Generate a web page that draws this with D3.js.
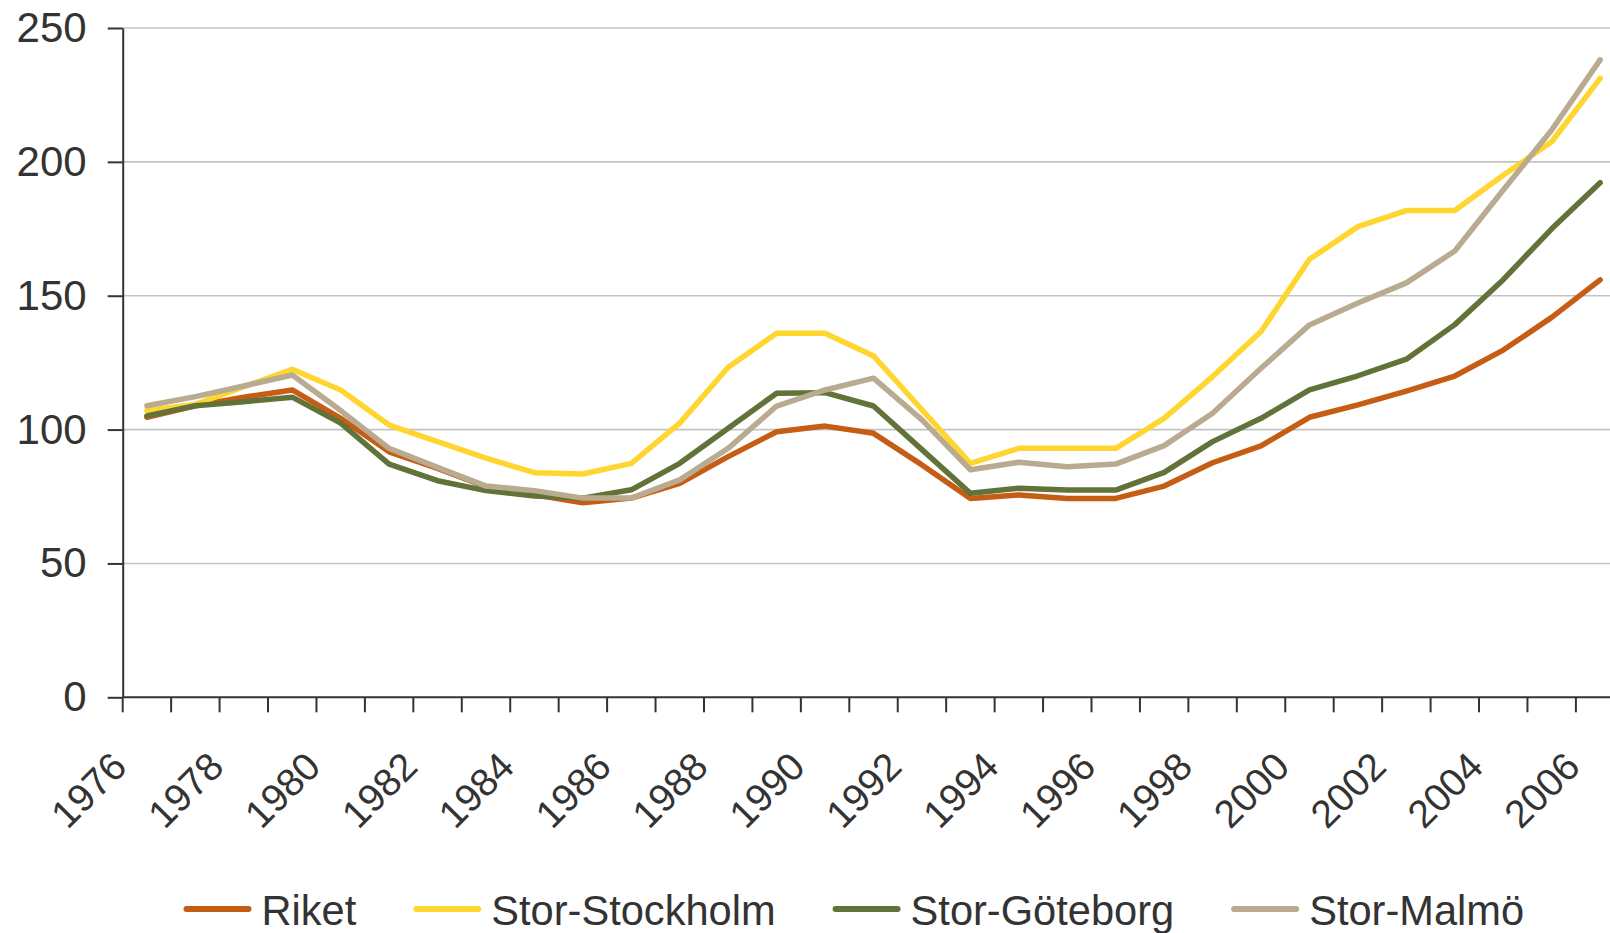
<!DOCTYPE html>
<html>
<head>
<meta charset="utf-8">
<script src="https://cdn.jsdelivr.net/npm/d3@7"></script>
<style>
  html, body { margin: 0; padding: 0; background: #fff; }
  svg { display: block; font-family: "Liberation Sans", Arial, sans-serif; }
</style>
</head>
<body>
<svg id="chart" width="1610" height="933"></svg>
<script>
// ---- Data ----
const years = [1976,1977,1978,1979,1980,1981,1982,1983,1984,1985,1986,1987,1988,1989,1990,1991,1992,1993,1994,1995,1996,1997,1998,1999,2000,2001,2002,2003,2004,2005,2006];
const tickLabelYears = [1976,1978,1980,1982,1984,1986,1988,1990,1992,1994,1996,1998,2000,2002,2004,2006];
const yTicks = [0,50,100,150,200,250];
const seriesNames = ["Riket","Stor-Stockholm","Stor-Göteborg","Stor-Malmö"];
const riket = [104.6,108.9,112.1,114.8,104.2,91.7,85.5,78.7,75.6,72.7,74.4,79.9,89.9,99.2,101.3,98.6,86.8,74.3,75.6,74.3,74.3,78.9,87.6,93.9,104.6,109.2,114.4,120.0,129.7,141.9,155.9];
const storStockholm = [107.1,109.4,116.0,122.5,114.8,101.7,95.5,89.3,83.9,83.4,87.4,102.4,123.3,136.0,136.0,127.5,107.4,87.4,93.0,93.0,93.0,104.2,119.8,136.6,163.6,175.8,181.8,181.8,195.0,207.5,231.2];
const storGoteborg = [105.1,108.9,110.4,112.1,102.4,87.1,80.9,77.2,75.2,74.4,77.5,87.4,100.5,113.6,113.8,108.8,92.5,76.2,78.1,77.4,77.4,84.0,95.5,104.2,114.8,120.1,126.3,139.2,156.0,175.0,192.2];
const storMalmo = [108.9,112.3,116.3,120.4,107.1,93.0,85.9,78.9,77.2,74.4,74.4,81.2,93.0,108.8,114.8,119.2,103.6,85.0,87.8,86.1,87.1,94.0,106.1,122.9,139.1,147.3,154.8,166.7,189.5,211.9,238.1];
const seriesValues = [riket, storStockholm, storGoteborg, storMalmo];
const seriesColors = ["#C65D14","#FFD62F","#617339","#B8AB8F"];

// ---- Layout ----
const plotLeft = 122.7, bandW = 48.44, plotTop = 28, plotBottom = 697.3;
const plotRight = plotLeft + bandW * years.length;

const svg = d3.select("#chart");
const x = d3.scaleBand().domain(years).range([plotLeft, plotRight]).padding(0);
const y = d3.scaleLinear().domain([0, 250]).range([plotBottom, plotTop]);

// gridlines
svg.append("g").selectAll("line").data(yTicks.filter(d => d > 0)).join("line")
  .attr("x1", plotLeft).attr("x2", plotRight)
  .attr("y1", d => y(d)).attr("y2", d => y(d))
  .attr("stroke", "#c3c3c3").attr("stroke-width", 1.6);

// y axis
const yAxis = svg.append("g").attr("transform", `translate(${plotLeft},0)`)
  .call(d3.axisLeft(y).tickValues(yTicks).tickSize(15).tickPadding(21).tickSizeOuter(0));
yAxis.select(".domain").attr("stroke", "#333").attr("stroke-width", 2);
yAxis.selectAll(".tick line").attr("stroke", "#333").attr("stroke-width", 2);
yAxis.selectAll(".tick text").attr("font-size", 42).attr("fill", "#333")
  .attr("font-family", "'Liberation Sans', Arial, sans-serif");

// x axis line + ticks at band boundaries
const xg = svg.append("g");
xg.append("line").attr("x1", plotLeft).attr("x2", plotRight)
  .attr("y1", plotBottom).attr("y2", plotBottom)
  .attr("stroke", "#333").attr("stroke-width", 2);
const boundaries = years.map(d => x(d)).concat([x(years[years.length-1]) + x.bandwidth()]);
xg.selectAll("line.tk").data(boundaries).join("line").attr("class","tk")
  .attr("x1", d => d).attr("x2", d => d)
  .attr("y1", plotBottom).attr("y2", plotBottom + 15)
  .attr("stroke", "#333").attr("stroke-width", 2);
xg.selectAll("text").data(tickLabelYears).join("text")
  .attr("transform", d => `translate(${x(d) + x.bandwidth()/2 - 18},${plotBottom + 71.5}) rotate(-45)`)
  .attr("text-anchor", "end")
  .attr("font-size", 39).attr("fill", "#333")
  .text(d => d);

// lines
const line = d3.line().x((d, i) => x(years[i]) + x.bandwidth()/2).y(d => y(d));
svg.append("g").selectAll("path").data(seriesValues).join("path")
  .attr("d", d => line(d))
  .attr("fill", "none")
  .attr("stroke", (d, i) => seriesColors[i])
  .attr("stroke-width", 5.5)
  .attr("stroke-linejoin", "round")
  .attr("stroke-linecap", "round");

// legend
const lg = svg.append("g");
let lx = 183.5;
seriesNames.forEach((name, i) => {
  lg.append("line").attr("x1", lx + 3).attr("x2", lx + 65).attr("y1", 909).attr("y2", 909)
    .attr("stroke", seriesColors[i]).attr("stroke-width", 6).attr("stroke-linecap", "round");
  const t = lg.append("text").attr("x", lx + 78).attr("y", 925)
    .attr("font-size", 41.6).attr("fill", "#333").text(name);
  const w = t.node().getComputedTextLength();
  lx = lx + 78 + w + 57;
});
</script>
</body>
</html>
